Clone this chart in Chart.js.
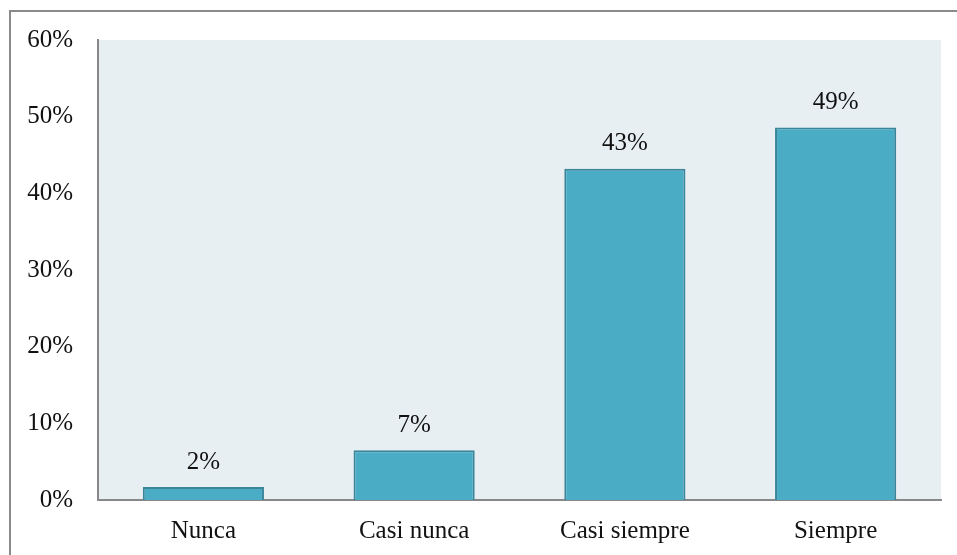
<!DOCTYPE html>
<html>
<head>
<meta charset="utf-8">
<script src="https://cdn.jsdelivr.net/npm/chart.js@4/dist/chart.umd.min.js"></script>
<style>
  html, body { margin: 0; padding: 0; background: #ffffff; overflow: hidden; }
  #frame { position: absolute; left: 9px; top: 10px; width: 1000px; height: 600px; border: 2px solid #8a8a8a; box-sizing: border-box; }
  #wrap { position: absolute; left: 0; top: 0; width: 957px; height: 555px; }
</style>
</head>
<body>
<div id="frame"></div>
<div id="wrap"><canvas id="c" width="957" height="555"></canvas></div>
<script>
const categories = ["Nunca", "Casi nunca", "Casi siempre", "Siempre"];
const values = [1.7, 6.5, 43.2, 48.6];
const valueLabels = ["2%", "7%", "43%", "49%"];
const yTicks = [0, 10, 20, 30, 40, 50, 60];

const FONT = "'Liberation Serif', 'Times New Roman', serif";

const plotBg = {
  id: 'plotBg',
  beforeDraw(chart) {
    const { ctx, chartArea: a } = chart;
    ctx.save();
    ctx.fillStyle = '#E8EFF3';
    ctx.fillRect(a.left, a.top, a.right - a.left, a.bottom - a.top);
    ctx.restore();
  }
};

const dataLabels = {
  id: 'dataLabels',
  afterDatasetsDraw(chart) {
    const { ctx } = chart;
    const meta = chart.getDatasetMeta(0);
    ctx.save();
    ctx.font = '25px ' + FONT;
    ctx.fillStyle = '#111111';
    ctx.textAlign = 'center';
    ctx.textBaseline = 'middle';
    meta.data.forEach((bar, i) => {
      ctx.fillText(valueLabels[i], bar.x, bar.y - 25);
    });
    ctx.restore();
  }
};

new Chart(document.getElementById('c'), {
  type: 'bar',
  data: {
    labels: categories,
    datasets: [{
      data: values,
      backgroundColor: '#4BACC6',
      borderColor: '#3A8599',
      borderWidth: 2,
      borderSkipped: 'bottom',
      categoryPercentage: 1,
      barPercentage: 0.575
    }]
  },
  options: {
    responsive: false,
    animation: false,
    events: [],
    layout: { padding: { top: 40, right: 16, left: 0, bottom: 0 } },
    plugins: { legend: { display: false }, tooltip: { enabled: false } },
    scales: {
      x: {
        grid: { display: false, drawTicks: false },
        border: { display: true, color: '#888888', width: 2 },
        ticks: { color: '#111111', font: { family: FONT, size: 25 }, padding: 16 },
        afterFit(s) { s.height = 55; }
      },
      y: {
        min: 0, max: 60,
        afterBuildTicks(s) { s.ticks = yTicks.map(v => ({ value: v })); },
        grid: { display: false, drawTicks: false },
        border: { display: true, color: '#888888', width: 2 },
        ticks: { color: '#111111', font: { family: FONT, size: 25 }, padding: 25, callback: v => v + '%' },
        afterFit(s) { s.width = 98; }
      }
    }
  },
  plugins: [plotBg, dataLabels]
});
</script>
</body>
</html>
